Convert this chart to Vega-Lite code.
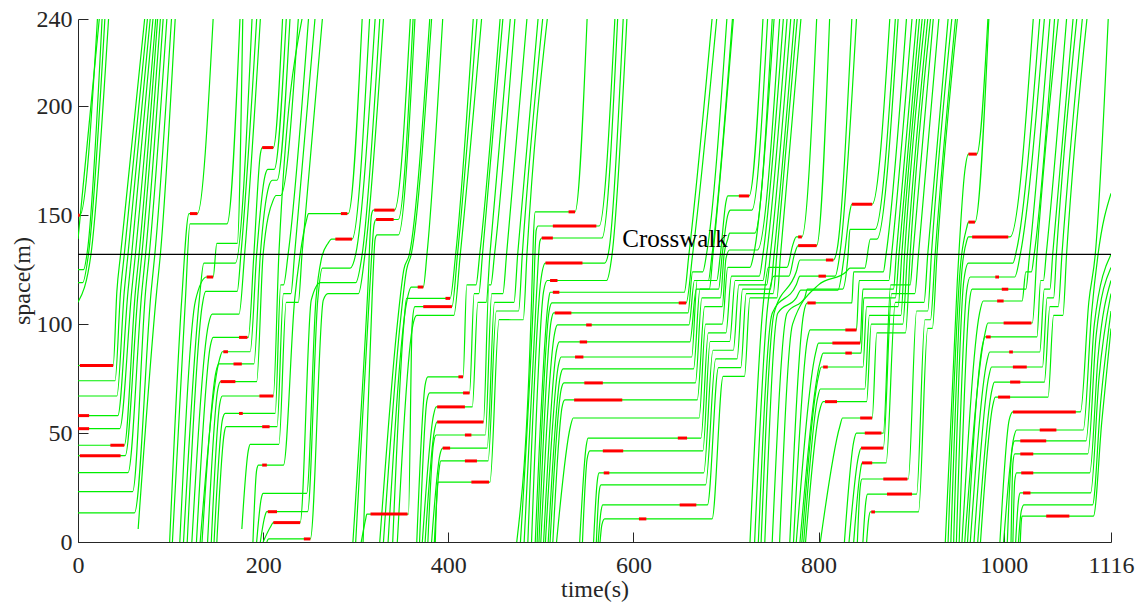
{
"$schema":"https://vega.github.io/schema/vega-lite/v6.json",
"width":1033,"height":523,
"autosize":{"type":"none"},
"padding":{"left":78,"top":19,"right":34,"bottom":67},
"background":"white",
"config":{"view":{"stroke":null},
"axis":{"labelFont":"Liberation Serif","labelFontSize":24,"labelColor":"#262626","titleFont":"Liberation Serif","titleFontSize":24,"titleFontWeight":"normal","titleColor":"#262626","domainColor":"#262626","tickColor":"#262626","grid":false,"tickSize":-10}},
"datasets":{
"traj":[
{"v":1,"t":0,"s":150},{"v":1,"t":2,"s":150},{"v":1,"t":21,"s":240},
{"v":2,"t":0,"s":139},{"v":2,"t":23,"s":240},
{"v":3,"t":0,"s":125},{"v":3,"t":6,"s":125},{"v":3,"t":10,"s":133},{"v":3,"t":26,"s":240},
{"v":4,"t":0,"s":119},{"v":4,"t":5,"s":119},{"v":4,"t":11,"s":131},{"v":4,"t":29,"s":240},
{"v":5,"t":0,"s":110},{"v":5,"t":14,"s":132},{"v":5,"t":33,"s":240},
{"v":6,"t":0,"s":81},{"v":6,"t":38,"s":81},{"v":6,"t":42,"s":115},{"v":6,"t":46,"s":132},{"v":6,"t":72,"s":240},
{"v":7,"t":0,"s":74},{"v":7,"t":40,"s":74},{"v":7,"t":46,"s":115},{"v":7,"t":50,"s":132},{"v":7,"t":75,"s":240},
{"v":8,"t":0,"s":67},{"v":8,"t":42,"s":67},{"v":8,"t":50,"s":115},{"v":8,"t":54,"s":132},{"v":8,"t":78,"s":240},
{"v":9,"t":0,"s":58},{"v":9,"t":43,"s":58},{"v":9,"t":54,"s":115},{"v":9,"t":58,"s":132},{"v":9,"t":81,"s":240},
{"v":10,"t":0,"s":52},{"v":10,"t":45,"s":52},{"v":10,"t":58,"s":115},{"v":10,"t":62,"s":132},{"v":10,"t":84,"s":240},
{"v":11,"t":0,"s":44.4},{"v":11,"t":50,"s":44.4},{"v":11,"t":62,"s":115},{"v":11,"t":66,"s":132},{"v":11,"t":86,"s":240},
{"v":12,"t":0,"s":39.6},{"v":12,"t":51,"s":39.6},{"v":12,"t":65,"s":115},{"v":12,"t":69,"s":132},{"v":12,"t":89,"s":240},
{"v":13,"t":0,"s":31.8},{"v":13,"t":54,"s":31.8},{"v":13,"t":69,"s":115},{"v":13,"t":73,"s":132},{"v":13,"t":92,"s":240},
{"v":14,"t":0,"s":23.1},{"v":14,"t":59,"s":23.1},{"v":14,"t":73,"s":115},{"v":14,"t":77,"s":132},{"v":14,"t":96,"s":240},
{"v":15,"t":0,"s":13.4},{"v":15,"t":61,"s":13.4},{"v":15,"t":79,"s":115},{"v":15,"t":83,"s":132},{"v":15,"t":101,"s":240},
{"v":16,"t":65,"s":6},{"v":16,"t":85,"s":115},{"v":16,"t":89,"s":132},{"v":16,"t":105,"s":240},
{"v":17,"t":99,"s":0},{"v":17,"t":112,"s":111},{"v":17,"t":120,"s":150.7},{"v":17,"t":129,"s":150.7},{"v":17,"t":146,"s":240},
{"v":18,"t":102,"s":0},{"v":18,"t":116,"s":111},{"v":18,"t":121,"s":146},{"v":18,"t":161,"s":146},{"v":18,"t":175,"s":240},
{"v":19,"t":110,"s":0},{"v":19,"t":127,"s":111},{"v":19,"t":139,"s":121.6},{"v":19,"t":146,"s":121.6},{"v":19,"t":150,"s":137},{"v":19,"t":172,"s":137},{"v":19,"t":178,"s":240},
{"v":20,"t":114,"s":0},{"v":20,"t":131,"s":111},{"v":20,"t":136,"s":128},{"v":20,"t":170,"s":128},{"v":20,"t":188,"s":240},
{"v":21,"t":118,"s":0},{"v":21,"t":134,"s":108},{"v":21,"t":138,"s":115},{"v":21,"t":172,"s":115},{"v":21,"t":176,"s":132},{"v":21,"t":193,"s":240},
{"v":22,"t":123,"s":0},{"v":22,"t":141,"s":100},{"v":22,"t":145,"s":104.6},{"v":22,"t":174,"s":104.6},{"v":22,"t":180,"s":132},{"v":22,"t":197,"s":240},
{"v":23,"t":128,"s":0},{"v":23,"t":143,"s":90},{"v":23,"t":146,"s":93.9},{"v":23,"t":184,"s":93.9},{"v":23,"t":190,"s":132},{"v":23,"t":197,"s":178},{"v":23,"t":199,"s":181},{"v":23,"t":211,"s":181},{"v":23,"t":221,"s":240},
{"v":24,"t":132,"s":0},{"v":24,"t":153,"s":84},{"v":24,"t":156,"s":87.3},{"v":24,"t":186,"s":87.3},{"v":24,"t":193,"s":132},{"v":24,"t":202,"s":168},{"v":24,"t":205,"s":171},{"v":24,"t":212,"s":171},{"v":24,"t":225,"s":240},
{"v":25,"t":134,"s":0},{"v":25,"t":149,"s":78},{"v":25,"t":152,"s":81.7},{"v":25,"t":190,"s":81.7},{"v":25,"t":197,"s":132},{"v":25,"t":206,"s":163},{"v":25,"t":210,"s":166},{"v":25,"t":215,"s":166},{"v":25,"t":229,"s":240},
{"v":26,"t":140,"s":0},{"v":26,"t":151,"s":70},{"v":26,"t":154,"s":73.6},{"v":26,"t":193,"s":73.6},{"v":26,"t":200,"s":132},{"v":26,"t":211,"s":157},{"v":26,"t":214,"s":159},{"v":26,"t":219,"s":159},{"v":26,"t":238,"s":240},
{"v":27,"t":144,"s":0},{"v":27,"t":153,"s":63},{"v":27,"t":156,"s":67},{"v":27,"t":211,"s":67},{"v":27,"t":217,"s":132},{"v":27,"t":242,"s":240},
{"v":28,"t":147,"s":0},{"v":28,"t":156,"s":56},{"v":28,"t":159,"s":59},{"v":28,"t":213,"s":59},{"v":28,"t":219,"s":118},{"v":28,"t":222,"s":118},{"v":28,"t":227,"s":132},{"v":28,"t":249,"s":240},
{"v":29,"t":150,"s":0},{"v":29,"t":158,"s":50},{"v":29,"t":160,"s":52.9},{"v":29,"t":215,"s":52.9},{"v":29,"t":222,"s":114},{"v":29,"t":230,"s":114},{"v":29,"t":234,"s":132},{"v":29,"t":256,"s":240},
{"v":30,"t":177,"s":6},{"v":30,"t":184,"s":42},{"v":30,"t":186,"s":44.8},{"v":30,"t":217,"s":44.8},{"v":30,"t":225,"s":110},{"v":30,"t":238,"s":110},{"v":30,"t":242,"s":132},{"v":30,"t":264,"s":240},
{"v":31,"t":189,"s":0},{"v":31,"t":193,"s":33},{"v":31,"t":195,"s":35.3},{"v":31,"t":222,"s":35.3},{"v":31,"t":234,"s":111},{"v":31,"t":240,"s":132},{"v":31,"t":247,"s":148},{"v":31,"t":249,"s":150.7},{"v":31,"t":292,"s":150.7},{"v":31,"t":307,"s":240},
{"v":32,"t":193,"s":0},{"v":32,"t":198,"s":20},{"v":32,"t":200,"s":22.3},{"v":32,"t":247,"s":22.3},{"v":32,"t":257,"s":111},{"v":32,"t":263,"s":130},{"v":32,"t":270,"s":137},{"v":32,"t":274,"s":139},{"v":32,"t":296,"s":139},{"v":32,"t":315,"s":240},
{"v":33,"t":197,"s":0},{"v":33,"t":202,"s":12},{"v":33,"t":204,"s":13.9},{"v":33,"t":248,"s":13.9},{"v":33,"t":259,"s":111},{"v":33,"t":264,"s":125.7},{"v":33,"t":294,"s":125.7},{"v":33,"t":300,"s":132},{"v":33,"t":321,"s":240},
{"v":34,"t":200,"s":0},{"v":34,"t":208,"s":7},{"v":34,"t":211,"s":8.9},{"v":34,"t":240,"s":8.9},{"v":34,"t":252,"s":111},{"v":34,"t":262,"s":119},{"v":34,"t":300,"s":119},{"v":34,"t":307,"s":132},{"v":34,"t":326,"s":240},
{"v":35,"t":204,"s":0},{"v":35,"t":206,"s":1.4},{"v":35,"t":251,"s":1.4},{"v":35,"t":265,"s":111},{"v":35,"t":270,"s":114},{"v":35,"t":303,"s":114},{"v":35,"t":310,"s":132},{"v":35,"t":330,"s":240},
{"v":36,"t":297,"s":0},{"v":36,"t":313,"s":115},{"v":36,"t":317,"s":150},{"v":36,"t":319,"s":152.3},{"v":36,"t":342,"s":152.3},{"v":36,"t":359,"s":240},
{"v":37,"t":300,"s":0},{"v":37,"t":315,"s":115},{"v":37,"t":320,"s":146},{"v":37,"t":322,"s":148},{"v":37,"t":346,"s":148},{"v":37,"t":362,"s":240},
{"v":38,"t":308,"s":0},{"v":38,"t":318,"s":115},{"v":38,"t":321,"s":139},{"v":38,"t":323,"s":140.9},{"v":38,"t":346,"s":140.9},{"v":38,"t":364,"s":240},
{"v":39,"t":306,"s":0},{"v":39,"t":311,"s":11},{"v":39,"t":312,"s":12.8},{"v":39,"t":357,"s":12.8},{"v":39,"t":361,"s":100},{"v":39,"t":364,"s":108},{"v":39,"t":404,"s":108},{"v":39,"t":410,"s":132},{"v":39,"t":431,"s":240},
{"v":40,"t":326,"s":0},{"v":40,"t":345,"s":100},{"v":40,"t":352,"s":125},{"v":40,"t":358,"s":132},{"v":40,"t":380,"s":240},
{"v":41,"t":330,"s":0},{"v":41,"t":348,"s":100},{"v":41,"t":355,"s":125},{"v":41,"t":360,"s":132},{"v":41,"t":382,"s":240},
{"v":42,"t":335,"s":0},{"v":42,"t":355,"s":110},{"v":42,"t":360,"s":117},{"v":42,"t":373,"s":117},{"v":42,"t":377,"s":132},{"v":42,"t":394,"s":240},
{"v":43,"t":340,"s":0},{"v":43,"t":352,"s":100},{"v":43,"t":355,"s":111.8},{"v":43,"t":402,"s":111.8},{"v":43,"t":408,"s":132},{"v":43,"t":427,"s":240},
{"v":44,"t":345,"s":0},{"v":44,"t":362,"s":100},{"v":44,"t":366,"s":104},{"v":44,"t":406,"s":104},{"v":44,"t":413,"s":132},{"v":44,"t":436,"s":240},
{"v":45,"t":366,"s":0},{"v":45,"t":375,"s":72},{"v":45,"t":378,"s":75.8},{"v":45,"t":416,"s":75.8},{"v":45,"t":420,"s":118},{"v":45,"t":430,"s":118},{"v":45,"t":434,"s":132},{"v":45,"t":456,"s":240},
{"v":46,"t":369,"s":0},{"v":46,"t":377,"s":65},{"v":46,"t":380,"s":68.4},{"v":46,"t":423,"s":68.4},{"v":46,"t":428,"s":114},{"v":46,"t":433,"s":114},{"v":46,"t":437,"s":132},{"v":46,"t":459,"s":240},
{"v":47,"t":372,"s":0},{"v":47,"t":384,"s":58},{"v":47,"t":387,"s":62},{"v":47,"t":426,"s":62},{"v":47,"t":432,"s":110},{"v":47,"t":441,"s":110},{"v":47,"t":445,"s":132},{"v":47,"t":467,"s":240},
{"v":48,"t":375,"s":0},{"v":48,"t":385,"s":51},{"v":48,"t":388,"s":55.1},{"v":48,"t":438,"s":55.1},{"v":48,"t":444,"s":118},{"v":48,"t":446,"s":118},{"v":48,"t":450,"s":132},{"v":48,"t":472,"s":240},
{"v":49,"t":378,"s":0},{"v":49,"t":384,"s":45},{"v":49,"t":387,"s":49.1},{"v":49,"t":440,"s":49.1},{"v":49,"t":447,"s":114},{"v":49,"t":459,"s":114},{"v":49,"t":463,"s":132},{"v":49,"t":485,"s":240},
{"v":50,"t":382,"s":0},{"v":50,"t":391,"s":40},{"v":50,"t":394,"s":43.1},{"v":50,"t":442,"s":43.1},{"v":50,"t":450,"s":110},{"v":50,"t":471,"s":110},{"v":50,"t":475,"s":132},{"v":50,"t":497,"s":240},
{"v":51,"t":385,"s":0},{"v":51,"t":390,"s":33},{"v":51,"t":392,"s":37.2},{"v":51,"t":443,"s":37.2},{"v":51,"t":452,"s":106},{"v":51,"t":476,"s":106},{"v":51,"t":480,"s":132},{"v":51,"t":502,"s":240},
{"v":52,"t":386,"s":0},{"v":52,"t":388,"s":24},{"v":52,"t":389,"s":27.5},{"v":52,"t":445,"s":27.5},{"v":52,"t":455,"s":102},{"v":52,"t":481,"s":102},{"v":52,"t":485,"s":132},{"v":52,"t":507,"s":240},
{"v":53,"t":474,"s":0},{"v":53,"t":490,"s":111},{"v":53,"t":492,"s":140},{"v":53,"t":494,"s":151.5},{"v":53,"t":537,"s":151.5},{"v":53,"t":550,"s":240},
{"v":54,"t":478,"s":0},{"v":54,"t":492,"s":111},{"v":54,"t":495,"s":143},{"v":54,"t":497,"s":145},{"v":54,"t":563,"s":145},{"v":54,"t":580,"s":240},
{"v":55,"t":482,"s":0},{"v":55,"t":495,"s":111},{"v":55,"t":499,"s":138},{"v":55,"t":501,"s":139.5},{"v":55,"t":566,"s":139.5},{"v":55,"t":583,"s":240},
{"v":56,"t":486,"s":0},{"v":56,"t":500,"s":120},{"v":56,"t":505,"s":128},{"v":56,"t":569,"s":128},{"v":56,"t":574,"s":135},{"v":56,"t":589,"s":240},
{"v":57,"t":490,"s":0},{"v":57,"t":503,"s":115},{"v":57,"t":507,"s":120},{"v":57,"t":571,"s":120},{"v":57,"t":577,"s":132},{"v":57,"t":593,"s":240},
{"v":58,"t":494,"s":0},{"v":58,"t":508,"s":110},{"v":58,"t":510,"s":114.6},{"v":58,"t":655,"s":114.6},{"v":58,"t":660,"s":132},{"v":58,"t":685,"s":240},
{"v":59,"t":496,"s":0},{"v":59,"t":509,"s":106},{"v":59,"t":512,"s":109.7},{"v":59,"t":657,"s":109.7},{"v":59,"t":664,"s":132},{"v":59,"t":690,"s":240},
{"v":60,"t":498,"s":0},{"v":60,"t":511,"s":101},{"v":60,"t":514,"s":105.1},{"v":60,"t":659,"s":105.1},{"v":60,"t":664,"s":124},{"v":60,"t":675,"s":124},{"v":60,"t":679,"s":132},{"v":60,"t":701,"s":240},
{"v":61,"t":500,"s":0},{"v":61,"t":515,"s":96},{"v":61,"t":518,"s":99.6},{"v":61,"t":660,"s":99.6},{"v":61,"t":666,"s":120},{"v":61,"t":681,"s":120},{"v":61,"t":685,"s":132},{"v":61,"t":707,"s":240},
{"v":62,"t":503,"s":0},{"v":62,"t":517,"s":88},{"v":62,"t":520,"s":91.8},{"v":62,"t":661,"s":91.8},{"v":62,"t":668,"s":116},{"v":62,"t":682,"s":116},{"v":62,"t":686,"s":132},{"v":62,"t":708,"s":240},
{"v":63,"t":505,"s":0},{"v":63,"t":519,"s":81},{"v":63,"t":522,"s":84.9},{"v":63,"t":663,"s":84.9},{"v":63,"t":669,"s":120},{"v":63,"t":690,"s":120},{"v":63,"t":694,"s":132},{"v":63,"t":700,"s":156},{"v":63,"t":702,"s":158.8},{"v":63,"t":725,"s":158.8},{"v":63,"t":740,"s":240},
{"v":64,"t":508,"s":0},{"v":64,"t":521,"s":76},{"v":64,"t":524,"s":79.4},{"v":64,"t":665,"s":79.4},{"v":64,"t":672,"s":116},{"v":64,"t":692,"s":116},{"v":64,"t":696,"s":132},{"v":64,"t":702,"s":150},{"v":64,"t":705,"s":152.3},{"v":64,"t":728,"s":152.3},{"v":64,"t":745,"s":240},
{"v":65,"t":510,"s":0},{"v":65,"t":522,"s":70},{"v":65,"t":525,"s":73},{"v":65,"t":667,"s":73},{"v":65,"t":674,"s":112},{"v":65,"t":694,"s":112},{"v":65,"t":698,"s":132},{"v":65,"t":702,"s":139},{"v":65,"t":704,"s":141.7},{"v":65,"t":731,"s":141.7},{"v":65,"t":750,"s":240},
{"v":66,"t":513,"s":0},{"v":66,"t":523,"s":62},{"v":66,"t":526,"s":65.2},{"v":66,"t":669,"s":65.2},{"v":66,"t":677,"s":108},{"v":66,"t":696,"s":108},{"v":66,"t":700,"s":130},{"v":66,"t":704,"s":134},{"v":66,"t":734,"s":134},{"v":66,"t":758,"s":240},
{"v":67,"t":517,"s":0},{"v":67,"t":532,"s":53},{"v":67,"t":535,"s":56.9},{"v":67,"t":671,"s":56.9},{"v":67,"t":678,"s":100},{"v":67,"t":696,"s":100},{"v":67,"t":702,"s":126},{"v":67,"t":726,"s":126},{"v":67,"t":730,"s":132},{"v":67,"t":752,"s":240},
{"v":68,"t":542,"s":0},{"v":68,"t":549,"s":44},{"v":68,"t":551,"s":47.7},{"v":68,"t":673,"s":47.7},{"v":68,"t":681,"s":96},{"v":68,"t":700,"s":96},{"v":68,"t":706,"s":122},{"v":68,"t":736,"s":122},{"v":68,"t":740,"s":132},{"v":68,"t":762,"s":240},
{"v":69,"t":545,"s":0},{"v":69,"t":550,"s":38},{"v":69,"t":553,"s":41.8},{"v":69,"t":675,"s":41.8},{"v":69,"t":683,"s":92},{"v":69,"t":704,"s":92},{"v":69,"t":710,"s":120},{"v":69,"t":740,"s":120},{"v":69,"t":744,"s":132},{"v":69,"t":766,"s":240},
{"v":70,"t":557,"s":0},{"v":70,"t":561,"s":28},{"v":70,"t":563,"s":31.7},{"v":70,"t":676,"s":31.7},{"v":70,"t":686,"s":88},{"v":70,"t":708,"s":88},{"v":70,"t":714,"s":118},{"v":70,"t":744,"s":118},{"v":70,"t":748,"s":132},{"v":70,"t":770,"s":240},
{"v":71,"t":560,"s":0},{"v":71,"t":563,"s":23},{"v":71,"t":565,"s":26.2},{"v":71,"t":678,"s":26.2},{"v":71,"t":689,"s":84},{"v":71,"t":712,"s":84},{"v":71,"t":718,"s":116},{"v":71,"t":748,"s":116},{"v":71,"t":752,"s":132},{"v":71,"t":774,"s":240},
{"v":72,"t":562,"s":0},{"v":72,"t":565,"s":14},{"v":72,"t":567,"s":17},{"v":72,"t":680,"s":17},{"v":72,"t":692,"s":80},{"v":72,"t":716,"s":80},{"v":72,"t":722,"s":114},{"v":72,"t":751,"s":114},{"v":72,"t":755,"s":132},{"v":72,"t":777,"s":240},
{"v":73,"t":564,"s":0},{"v":73,"t":566,"s":8},{"v":73,"t":569,"s":10.6},{"v":73,"t":685,"s":10.6},{"v":73,"t":697,"s":76},{"v":73,"t":720,"s":76},{"v":73,"t":726,"s":112},{"v":73,"t":755,"s":112},{"v":73,"t":759,"s":132},{"v":73,"t":781,"s":240},
{"v":74,"t":726,"s":0},{"v":74,"t":740,"s":108},{"v":74,"t":746,"s":126},{"v":74,"t":766,"s":126},{"v":74,"t":772,"s":136},{"v":74,"t":776,"s":140},{"v":74,"t":782,"s":140},{"v":74,"t":798,"s":240},
{"v":75,"t":731,"s":0},{"v":75,"t":745,"s":108},{"v":75,"t":752,"s":122},{"v":75,"t":768,"s":122},{"v":75,"t":774,"s":132},{"v":75,"t":778,"s":136},{"v":75,"t":798,"s":136},{"v":75,"t":812,"s":240},
{"v":76,"t":735,"s":0},{"v":76,"t":750,"s":105},{"v":76,"t":776,"s":118},{"v":76,"t":780,"s":122},{"v":76,"t":818,"s":122},{"v":76,"t":823,"s":132},{"v":76,"t":841,"s":240},
{"v":77,"t":738,"s":0},{"v":77,"t":752,"s":105},{"v":77,"t":776,"s":124},{"v":77,"t":780,"s":129.4},{"v":77,"t":816,"s":129.4},{"v":77,"t":820,"s":134},{"v":77,"t":836,"s":240},
{"v":78,"t":742,"s":0},{"v":78,"t":756,"s":105},{"v":78,"t":776,"s":112},{"v":78,"t":781,"s":115.6},{"v":78,"t":821,"s":115.6},{"v":78,"t":828,"s":132},{"v":78,"t":834,"s":152},{"v":78,"t":836,"s":155},{"v":78,"t":858,"s":155},{"v":78,"t":877,"s":240},
{"v":79,"t":750,"s":0},{"v":79,"t":766,"s":105},{"v":79,"t":785,"s":112},{"v":79,"t":788,"s":116},{"v":79,"t":826,"s":116},{"v":79,"t":832,"s":132},{"v":79,"t":834,"s":143.5},{"v":79,"t":861,"s":143.5},{"v":79,"t":883,"s":240},
{"v":80,"t":758,"s":0},{"v":80,"t":772,"s":100},{"v":80,"t":800,"s":118},{"v":80,"t":830,"s":124},{"v":80,"t":834,"s":125.7},{"v":80,"t":850,"s":125.7},{"v":80,"t":856,"s":139},{"v":80,"t":863,"s":139},{"v":80,"t":886,"s":240},
{"v":81,"t":769,"s":0},{"v":81,"t":784,"s":105},{"v":81,"t":788,"s":109.7},{"v":81,"t":836,"s":109.7},{"v":81,"t":838,"s":124},{"v":81,"t":870,"s":124},{"v":81,"t":873,"s":132},{"v":81,"t":895,"s":240},
{"v":82,"t":773,"s":0},{"v":82,"t":788,"s":93},{"v":82,"t":791,"s":97.3},{"v":82,"t":841,"s":97.3},{"v":82,"t":844,"s":120},{"v":82,"t":876,"s":120},{"v":82,"t":879,"s":132},{"v":82,"t":901,"s":240},
{"v":83,"t":776,"s":0},{"v":83,"t":797,"s":87},{"v":83,"t":800,"s":91.3},{"v":83,"t":845,"s":91.3},{"v":83,"t":848,"s":116},{"v":83,"t":881,"s":116},{"v":83,"t":884,"s":132},{"v":83,"t":906,"s":240},
{"v":84,"t":780,"s":0},{"v":84,"t":802,"s":83},{"v":84,"t":805,"s":86.7},{"v":84,"t":846,"s":86.7},{"v":84,"t":849,"s":112},{"v":84,"t":883,"s":112},{"v":84,"t":887,"s":132},{"v":84,"t":909,"s":240},
{"v":85,"t":782,"s":0},{"v":85,"t":800,"s":76},{"v":85,"t":803,"s":80.3},{"v":85,"t":848,"s":80.3},{"v":85,"t":852,"s":108},{"v":85,"t":886,"s":108},{"v":85,"t":890,"s":132},{"v":85,"t":912,"s":240},
{"v":86,"t":784,"s":0},{"v":86,"t":799,"s":66},{"v":86,"t":802,"s":70.2},{"v":86,"t":850,"s":70.2},{"v":86,"t":855,"s":104},{"v":86,"t":889,"s":104},{"v":86,"t":893,"s":132},{"v":86,"t":915,"s":240},
{"v":87,"t":786,"s":0},{"v":87,"t":801,"s":60},{"v":87,"t":805,"s":64.4},{"v":87,"t":852,"s":64.4},{"v":87,"t":857,"s":100},{"v":87,"t":891,"s":100},{"v":87,"t":896,"s":132},{"v":87,"t":918,"s":240},
{"v":88,"t":802,"s":0},{"v":88,"t":823,"s":53},{"v":88,"t":826,"s":56.9},{"v":88,"t":858,"s":56.9},{"v":88,"t":863,"s":96},{"v":88,"t":894,"s":96},{"v":88,"t":899,"s":132},{"v":88,"t":921,"s":240},
{"v":89,"t":828,"s":0},{"v":89,"t":838,"s":46},{"v":89,"t":841,"s":50},{"v":89,"t":870,"s":50},{"v":89,"t":878,"s":118},{"v":89,"t":899,"s":118},{"v":89,"t":902,"s":132},{"v":89,"t":924,"s":240},
{"v":90,"t":833,"s":0},{"v":90,"t":843,"s":39},{"v":90,"t":846,"s":43.1},{"v":90,"t":870,"s":43.1},{"v":90,"t":879,"s":114},{"v":90,"t":904,"s":114},{"v":90,"t":908,"s":132},{"v":90,"t":930,"s":240},
{"v":91,"t":838,"s":0},{"v":91,"t":845,"s":32},{"v":91,"t":847,"s":36.3},{"v":91,"t":873,"s":36.3},{"v":91,"t":883,"s":110},{"v":91,"t":914,"s":110},{"v":91,"t":918,"s":132},{"v":91,"t":940,"s":240},
{"v":92,"t":842,"s":0},{"v":92,"t":845,"s":25},{"v":92,"t":847,"s":28.9},{"v":92,"t":897,"s":28.9},{"v":92,"t":906,"s":106},{"v":92,"t":918,"s":106},{"v":92,"t":922,"s":132},{"v":92,"t":944,"s":240},
{"v":93,"t":848,"s":0},{"v":93,"t":851,"s":18},{"v":93,"t":853,"s":22},{"v":93,"t":906,"s":22},{"v":93,"t":915,"s":102},{"v":93,"t":921,"s":102},{"v":93,"t":926,"s":132},{"v":93,"t":948,"s":240},
{"v":94,"t":852,"s":0},{"v":94,"t":854,"s":10},{"v":94,"t":856,"s":13.8},{"v":94,"t":908,"s":13.8},{"v":94,"t":918,"s":98},{"v":94,"t":923,"s":98},{"v":94,"t":928,"s":132},{"v":94,"t":950,"s":240},
{"v":95,"t":937,"s":0},{"v":95,"t":950,"s":120},{"v":95,"t":958,"s":170},{"v":95,"t":962,"s":178},{"v":95,"t":971,"s":178},{"v":95,"t":983,"s":240},
{"v":96,"t":940,"s":0},{"v":96,"t":953,"s":125},{"v":96,"t":960,"s":144},{"v":96,"t":962,"s":146.8},{"v":96,"t":969,"s":146.8},{"v":96,"t":984,"s":240},
{"v":97,"t":943,"s":0},{"v":97,"t":955,"s":125},{"v":97,"t":960,"s":138},{"v":97,"t":962,"s":140},{"v":97,"t":1007,"s":140},{"v":97,"t":1032,"s":240},
{"v":98,"t":946,"s":0},{"v":98,"t":957,"s":120},{"v":98,"t":962,"s":128},{"v":98,"t":1010,"s":128},{"v":98,"t":1014,"s":134},{"v":98,"t":1039,"s":240},
{"v":99,"t":949,"s":0},{"v":99,"t":960,"s":115},{"v":99,"t":964,"s":121.6},{"v":99,"t":1012,"s":121.6},{"v":99,"t":1018,"s":132},{"v":99,"t":1044,"s":240},
{"v":100,"t":952,"s":0},{"v":100,"t":963,"s":110},{"v":100,"t":966,"s":116},{"v":100,"t":1024,"s":116},{"v":100,"t":1028,"s":132},{"v":100,"t":1050,"s":240},
{"v":101,"t":955,"s":0},{"v":101,"t":974,"s":105},{"v":101,"t":978,"s":110.6},{"v":101,"t":1020,"s":110.6},{"v":101,"t":1024,"s":124},{"v":101,"t":1030,"s":124},{"v":101,"t":1033,"s":132},{"v":101,"t":1055,"s":240},
{"v":102,"t":958,"s":0},{"v":102,"t":980,"s":96},{"v":102,"t":983,"s":100.5},{"v":102,"t":1031,"s":100.5},{"v":102,"t":1036,"s":132},{"v":102,"t":1059,"s":240},
{"v":103,"t":961,"s":0},{"v":103,"t":977,"s":90},{"v":103,"t":980,"s":94.1},{"v":103,"t":1036,"s":94.1},{"v":103,"t":1040,"s":120},{"v":103,"t":1043,"s":120},{"v":103,"t":1046,"s":132},{"v":103,"t":1068,"s":240},
{"v":104,"t":964,"s":0},{"v":104,"t":982,"s":83},{"v":104,"t":985,"s":87.2},{"v":104,"t":1039,"s":87.2},{"v":104,"t":1044,"s":116},{"v":104,"t":1050,"s":116},{"v":104,"t":1053,"s":132},{"v":104,"t":1075,"s":240},
{"v":105,"t":968,"s":0},{"v":105,"t":984,"s":76},{"v":105,"t":987,"s":80.3},{"v":105,"t":1042,"s":80.3},{"v":105,"t":1047,"s":112},{"v":105,"t":1054,"s":112},{"v":105,"t":1057,"s":132},{"v":105,"t":1079,"s":240},
{"v":106,"t":972,"s":0},{"v":106,"t":987,"s":69},{"v":106,"t":990,"s":73.4},{"v":106,"t":1044,"s":73.4},{"v":106,"t":1050,"s":108},{"v":106,"t":1059,"s":108},{"v":106,"t":1063,"s":132},{"v":106,"t":1085,"s":240},
{"v":107,"t":975,"s":0},{"v":107,"t":988,"s":62},{"v":107,"t":991,"s":66.5},{"v":107,"t":1048,"s":66.5},{"v":107,"t":1054,"s":104},{"v":107,"t":1064,"s":104},{"v":107,"t":1068,"s":132},{"v":107,"t":1090,"s":240},
{"v":108,"t":996,"s":0},{"v":108,"t":1006,"s":56},{"v":108,"t":1010,"s":59.7},{"v":108,"t":1083,"s":59.7},{"v":108,"t":1092,"s":110},{"v":108,"t":1099,"s":132},{"v":108,"t":1113,"s":240},
{"v":109,"t":1000,"s":0},{"v":109,"t":1011,"s":48},{"v":109,"t":1014,"s":51.4},{"v":109,"t":1086,"s":51.4},{"v":109,"t":1095,"s":105},{"v":109,"t":1102,"s":132},{"v":109,"t":1116,"s":160},
{"v":110,"t":1004,"s":0},{"v":110,"t":1009,"s":42},{"v":110,"t":1012,"s":46.4},{"v":110,"t":1089,"s":46.4},{"v":110,"t":1098,"s":100},{"v":110,"t":1116,"s":132},
{"v":111,"t":1008,"s":0},{"v":111,"t":1010,"s":36},{"v":111,"t":1012,"s":40.4},{"v":111,"t":1091,"s":40.4},{"v":111,"t":1100,"s":95},{"v":111,"t":1116,"s":126},
{"v":112,"t":1010,"s":0},{"v":112,"t":1012,"s":28},{"v":112,"t":1014,"s":31.7},{"v":112,"t":1093,"s":31.7},{"v":112,"t":1102,"s":85},{"v":112,"t":1116,"s":120},
{"v":113,"t":1013,"s":0},{"v":113,"t":1016,"s":19},{"v":113,"t":1018,"s":22.5},{"v":113,"t":1094,"s":22.5},{"v":113,"t":1103,"s":75},{"v":113,"t":1116,"s":114},
{"v":114,"t":1016,"s":0},{"v":114,"t":1019,"s":14},{"v":114,"t":1022,"s":17},{"v":114,"t":1096,"s":17},{"v":114,"t":1105,"s":65},{"v":114,"t":1116,"s":106},
{"v":115,"t":1018,"s":0},{"v":115,"t":1019,"s":9},{"v":115,"t":1020,"s":11.9},{"v":115,"t":1097,"s":11.9},{"v":115,"t":1106,"s":55},{"v":115,"t":1116,"s":98}
],
"stops":[
{"t1":0,"t2":2,"s":150},{"t1":2,"t2":38,"s":81},{"t1":0,"t2":12,"s":58},{"t1":0,"t2":12,"s":52},{"t1":35,"t2":50,"s":44.4},{"t1":2,"t2":46,"s":39.6},
{"t1":121,"t2":129,"s":150.7},{"t1":139,"t2":146,"s":121.6},{"t1":174,"t2":183,"s":93.9},{"t1":157,"t2":162,"s":87.3},{"t1":168,"t2":177,"s":81.7},{"t1":154,"t2":170,"s":73.6},{"t1":196,"t2":211,"s":67},{"t1":174,"t2":178,"s":59},{"t1":199,"t2":207,"s":52.9},{"t1":199,"t2":204,"s":35.3},{"t1":205,"t2":215,"s":13.9},{"t1":211,"t2":240,"s":8.9},{"t1":244,"t2":251,"s":1.4},{"t1":199,"t2":211,"s":181},{"t1":284,"t2":291,"s":150.7},{"t1":278,"t2":296,"s":139},
{"t1":320,"t2":342,"s":152.3},{"t1":322,"t2":341,"s":148},{"t1":316,"t2":356,"s":12.8},{"t1":373,"t2":404,"s":108},{"t1":367,"t2":373,"s":117},{"t1":397,"t2":402,"s":111.8},
{"t1":411,"t2":416,"s":75.8},{"t1":416,"t2":423,"s":68.4},{"t1":388,"t2":418,"s":62},{"t1":388,"t2":438,"s":55.1},{"t1":418,"t2":425,"s":49.1},{"t1":394,"t2":402,"s":43.1},{"t1":418,"t2":431,"s":37.2},{"t1":425,"t2":444,"s":27.5},
{"t1":530,"t2":537,"s":151.5},{"t1":513,"t2":560,"s":145},{"t1":501,"t2":513,"s":139.5},{"t1":505,"t2":545,"s":128},{"t1":510,"t2":518,"s":120},
{"t1":513,"t2":520,"s":114.6},{"t1":649,"t2":657,"s":109.7},{"t1":515,"t2":533,"s":105.1},{"t1":549,"t2":555,"s":99.6},{"t1":542,"t2":550,"s":91.8},{"t1":537,"t2":546,"s":84.9},{"t1":547,"t2":567,"s":73},{"t1":536,"t2":588,"s":65.2},{"t1":648,"t2":658,"s":47.7},{"t1":567,"t2":589,"s":41.8},{"t1":568,"t2":574,"s":31.7},{"t1":650,"t2":668,"s":17},{"t1":606,"t2":614,"s":10.6},{"t1":714,"t2":725,"s":158.8},
{"t1":778,"t2":782,"s":140},{"t1":778,"t2":798,"s":136},{"t1":800,"t2":808,"s":122},{"t1":808,"t2":816,"s":129.4},{"t1":836,"t2":858,"s":155},
{"t1":788,"t2":797,"s":109.7},{"t1":829,"t2":841,"s":97.3},{"t1":815,"t2":845,"s":91.3},{"t1":829,"t2":836,"s":86.7},{"t1":805,"t2":810,"s":80.3},{"t1":807,"t2":820,"s":64.4},{"t1":845,"t2":858,"s":56.9},{"t1":850,"t2":868,"s":50},{"t1":846,"t2":870,"s":43.1},{"t1":847,"t2":858,"s":36.3},{"t1":870,"t2":896,"s":28.9},{"t1":874,"t2":901,"s":22},{"t1":857,"t2":861,"s":13.8},
{"t1":962,"t2":971,"s":178},{"t1":962,"t2":969,"s":146.8},{"t1":966,"t2":1005,"s":140},{"t1":991,"t2":995,"s":121.6},{"t1":998,"t2":1005,"s":116},{"t1":993,"t2":1000,"s":110.6},{"t1":1000,"t2":1030,"s":100.5},{"t1":981,"t2":986,"s":94.1},{"t1":1006,"t2":1010,"s":87.2},{"t1":1010,"t2":1025,"s":80.3},{"t1":1007,"t2":1018,"s":73.4},{"t1":994,"t2":1007,"s":66.5},
{"t1":1010,"t2":1078,"s":59.7},{"t1":1039,"t2":1057,"s":51.4},{"t1":1018,"t2":1046,"s":46.4},{"t1":1018,"t2":1032,"s":40.4},{"t1":1019,"t2":1032,"s":31.7},{"t1":1021,"t2":1029,"s":22.5},{"t1":1046,"t2":1071,"s":11.9}
],
"cross":[{"t1":0,"t2":1116,"s":132,"label":"Crosswalk","tl":588,"sl":135.5}]
},
"layer":[
{"data":{"name":"traj"},
 "mark":{"type":"line","color":"#00ee00","strokeWidth":1.2,"interpolate":"monotone","clip":true},
 "encoding":{
  "x":{"field":"t","type":"quantitative","scale":{"domain":[0,1116],"nice":false,"zero":false},
   "axis":{"title":"time(s)","format":"d","values":[0,200,400,600,800,1000,1116],"labelFont":"Liberation Serif","labelFontSize":24,"labelPadding":21,"titlePadding":0,"labelFlush":false}},
  "y":{"field":"s","type":"quantitative","scale":{"domain":[0,240],"nice":false},
   "axis":{"title":"space(m)","format":"d","values":[0,50,100,150,200,240],"labelFont":"Liberation Serif","labelFontSize":24,"labelPadding":16,"titlePadding":2,"labelFlush":false}},
  "detail":{"field":"v","type":"nominal"},
  "order":{"field":"t","type":"quantitative"}}},
{"data":{"name":"stops"},
 "mark":{"type":"rule","color":"#ff0000","strokeWidth":3},
 "encoding":{"x":{"field":"t1","type":"quantitative"},"x2":{"field":"t2"},"y":{"field":"s","type":"quantitative"}}},
{"data":{"name":"cross"},
 "mark":{"type":"rule","color":"#000000","strokeWidth":1.2},
 "encoding":{"x":{"field":"t1","type":"quantitative"},"x2":{"field":"t2"},"y":{"field":"s","type":"quantitative"}}},
{"data":{"name":"cross"},
 "mark":{"type":"text","font":"Liberation Serif","fontSize":25,"align":"left","baseline":"alphabetic","color":"#000000"},
 "encoding":{"x":{"field":"tl","type":"quantitative"},"y":{"field":"sl","type":"quantitative"},"text":{"field":"label"}}}
]
}
